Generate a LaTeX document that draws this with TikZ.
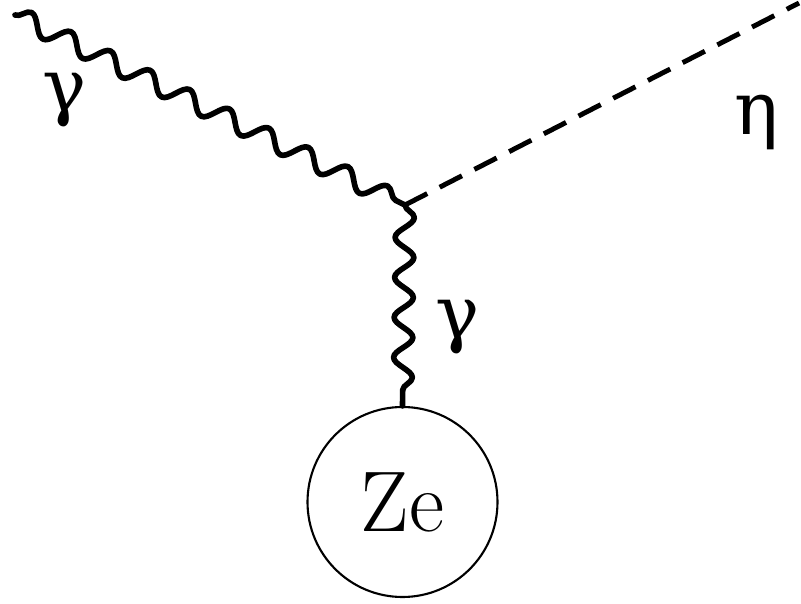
\documentclass[tikz,border=0pt]{standalone}
\usepackage{fontspec}
\newfontfamily\greekfont{DejaVu Serif}
\usetikzlibrary{decorations.pathmorphing, positioning}
\tikzset{
    photon/.style={line width=3.2pt, line cap=round, line join=round, decorate,
        decoration={snake, segment length=#1, amplitude=0.19cm}},
    photon/.default=0.8cm,
    scalar/.style={line width=2.8pt, dash pattern=on 0.5cm off 0.28cm},
    nucleus/.style={circle, draw=black, line width=1.2pt, minimum size=3.8cm, inner sep=0pt,
        font=\fontsize{49}{54}\selectfont},
    plabel/.style={font=\greekfont\fontsize{42}{50}\selectfont}
}
\begin{document}
\begin{tikzpicture}
\useasboundingbox (0,0) rectangle (16.02,12.06);

% Nodes
\coordinate (in)     at (0.3,11.76);
\coordinate (vertex) at (8.1,7.96);
\coordinate (out)    at (15.98,12.0);
\node[nucleus] (ze) at (8.05,2.02) {Ze};

% Lines
\draw[photon=0.88cm] (in) -- (vertex);
\draw[scalar] (vertex) -- (out);
\draw[photon] (vertex) -- (ze.north);

% Labels
\node[plabel] (gin)  at (1.3,10.06) {γ};
\node[plabel] (gex)  at (9.16,5.52) {γ};
\node[plabel] (eta)  at (15.14,9.6) {η};
\end{tikzpicture}
\end{document}
